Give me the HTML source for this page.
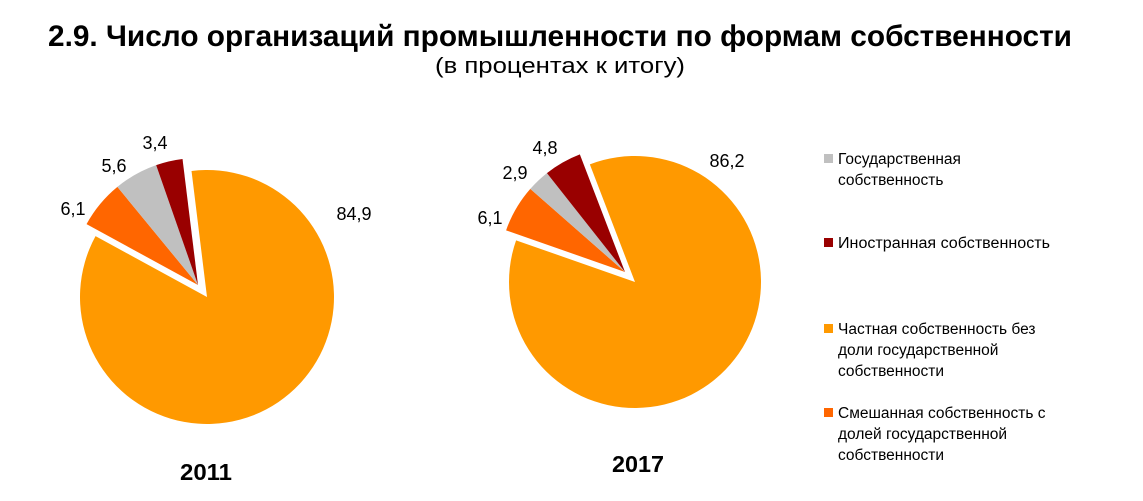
<!DOCTYPE html>
<html><head><meta charset="utf-8"><style>
body{margin:0;background:#fff;}
svg text{font-family:"Liberation Sans",sans-serif;fill:#000;}
</style></head><body>
<svg id="s" width="1143" height="496" xmlns="http://www.w3.org/2000/svg">
<text x="48" y="46" font-size="30" font-weight="bold" textLength="1024" lengthAdjust="spacingAndGlyphs">2.9. Число организаций промышленности по формам собственности</text>
<text x="435" y="73" font-size="22" textLength="250" lengthAdjust="spacingAndGlyphs">(в процентах к итогу)</text>
<g id="p"></g>
<g font-size="18">
<text x="155" y="149" text-anchor="middle">3,4</text>
<text x="114" y="172" text-anchor="middle">5,6</text>
<text x="73" y="215" text-anchor="middle">6,1</text>
<text x="354" y="220" text-anchor="middle">84,9</text>
<text x="545" y="154" text-anchor="middle">4,8</text>
<text x="515" y="179" text-anchor="middle">2,9</text>
<text x="490" y="224" text-anchor="middle">6,1</text>
<text x="727" y="167" text-anchor="middle">86,2</text>
</g>
<text x="180" y="480" font-size="23" font-weight="bold" textLength="52" lengthAdjust="spacingAndGlyphs">2011</text>
<text x="612" y="472" font-size="23" font-weight="bold" textLength="52" lengthAdjust="spacingAndGlyphs">2017</text>
<g font-size="15.5">
<rect x="824" y="154" width="9" height="9" fill="#C0C0C0"/>
<text x="838" y="164">Государственная</text>
<text x="838" y="185">собственность</text>
<rect x="824" y="238" width="9" height="9" fill="#990000"/>
<text x="838" y="248" textLength="212" lengthAdjust="spacingAndGlyphs">Иностранная собственность</text>
<rect x="824" y="324" width="9" height="9" fill="#FF9900"/>
<text x="838" y="334">Частная собственность без</text>
<text x="838" y="355">доли государственной</text>
<text x="838" y="376">собственности</text>
<rect x="824" y="408" width="9" height="9" fill="#FF6600"/>
<text x="838" y="418">Смешанная собственность с</text>
<text x="838" y="439">долей государственной</text>
<text x="838" y="460">собственности</text>
</g>
</svg>
<script>
function arc(cx,cy,r,a0,a1,col){
 var f=function(a){a=a*Math.PI/180;return [cx+r*Math.sin(a),cy-r*Math.cos(a)];};
 var p0=f(a0),p1=f(a1),l=(a1-a0)>180?1:0;
 return '<path d="M'+cx+','+cy+' L'+p0[0]+','+p0[1]+' A'+r+','+r+' 0 '+l+' 1 '+p1[0]+','+p1[1]+' Z" fill="'+col+'"/>';
}
function pie(oc,sc,r,s,v){
 var h='',a=s;var o=v[0]*3.6;
 h+=arc(oc[0],oc[1],r,a,a+o,'#FF9900');a+=o;
 var cols=['#FF6600','#C0C0C0','#990000'];
 for(var i=1;i<4;i++){var d=v[i]*3.6;h+=arc(sc[0],sc[1],r,a,a+d,cols[i-1]);a+=d;}
 return h;
}
document.getElementById('p').innerHTML=pie([207,297],[198,285],127,-7,[84.9,6.1,5.6,3.4])+pie([635,282],[625,272],126,-21,[86.2,6.1,2.9,4.8]);
</script>
</body></html>
